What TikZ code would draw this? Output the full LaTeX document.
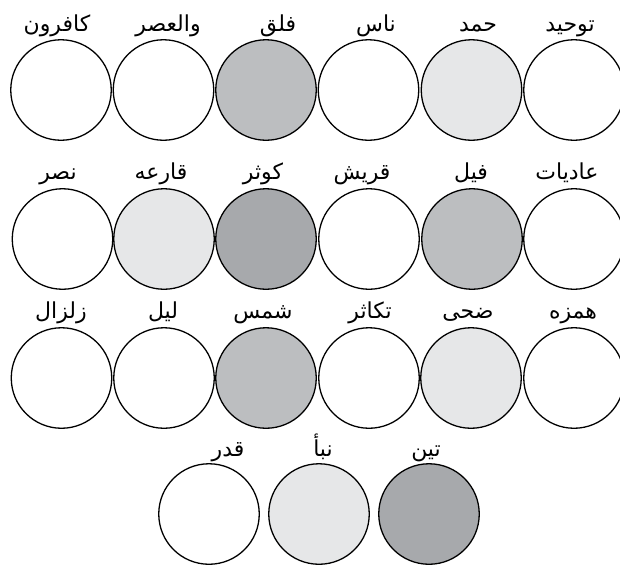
\documentclass[tikz,border=0pt]{standalone}
\usepackage{fontspec}
\newfontfamily\arabicfont[Script=Arabic]{DejaVu Sans}
\TeXXeTstate=1
\definecolor{gmid}{HTML}{BCBEC0}
\definecolor{glight}{HTML}{E6E7E8}
\definecolor{gdark}{HTML}{A7A9AC}
\tikzset{
  disc/.style={circle, draw=black, line width=1.3pt, minimum size=100.5pt, inner sep=0pt},
  lbl/.style={anchor=base, inner sep=0pt, font=\arabicfont\fontsize{22}{26}\selectfont},
}
\newcommand{\ar}[1]{\beginR #1\endR}
\begin{document}
\begin{tikzpicture}[x=1pt,y=-1pt]
\useasboundingbox (0,0) rectangle (620,566);
\clip (0,0) rectangle (620,566);
% row 1
\node[disc, fill=white]  (c11) at (61,90) {};
\node[disc, fill=white]  (c12) at (163.5,90) {};
\node[disc, fill=gmid]   (c13) at (266,90) {};
\node[disc, fill=white]  (c14) at (368.5,90) {};
\node[disc, fill=glight] (c15) at (471.5,90) {};
\node[disc, fill=white]  (c16) at (574,90) {};
\node[lbl] (l11) at (57,31) {\ar{كافرون}};
\node[lbl] (l12) at (168,31) {\ar{والعصر}};
\node[lbl] (l13) at (278,31) {\ar{فلق}};
\node[lbl] (l14) at (376,31) {\ar{ناس}};
\node[lbl] (l15) at (478,31) {\ar{حمد}};
\node[lbl] (l16) at (570,31) {\ar{توحيد}};
% row 2
\node[disc, fill=white]  (c21) at (62.5,239) {};
\node[disc, fill=glight] (c22) at (164,239) {};
\node[disc, fill=gdark]  (c23) at (266,239) {};
\node[disc, fill=white]  (c24) at (369,239) {};
\node[disc, fill=gmid]   (c25) at (472,239) {};
\node[disc, fill=white]  (c26) at (574,239) {};
\node[lbl] (l21) at (58,179) {\ar{نصر}};
\node[lbl] (l22) at (161,179) {\ar{قارعه}};
\node[lbl] (l23) at (263,179) {\ar{كوثر}};
\node[lbl] (l24) at (362,179) {\ar{قريش}};
\node[lbl] (l25) at (471,179) {\ar{فيل}};
\node[lbl] (l26) at (567,179) {\ar{عاديات}};
% row 3
\node[disc, fill=white]  (c31) at (61.5,378) {};
\node[disc, fill=white]  (c32) at (164,378) {};
\node[disc, fill=gmid]   (c33) at (266,378) {};
\node[disc, fill=white]  (c34) at (369,378) {};
\node[disc, fill=glight] (c35) at (471,378) {};
\node[disc, fill=white]  (c36) at (574,378) {};
\node[lbl] (l31) at (61,318) {\ar{زلزال}};
\node[lbl] (l32) at (163,318) {\ar{ليل}};
\node[lbl] (l33) at (263,318) {\ar{شمس}};
\node[lbl] (l34) at (370,318) {\ar{تكاثر}};
\node[lbl] (l35) at (468,318) {\ar{ضحى}};
\node[lbl] (l36) at (573,318) {\ar{همزه}};
% row 4
\node[disc, fill=white]  (c41) at (209,514) {};
\node[disc, fill=glight] (c42) at (319,514) {};
\node[disc, fill=gdark]  (c43) at (429,514) {};
\node[lbl] (l41) at (228,456) {\ar{قدر}};
\node[lbl] (l42) at (323,456) {\ar{نبأ}};
\node[lbl] (l43) at (426,456) {\ar{تين}};
\end{tikzpicture}
\end{document}
